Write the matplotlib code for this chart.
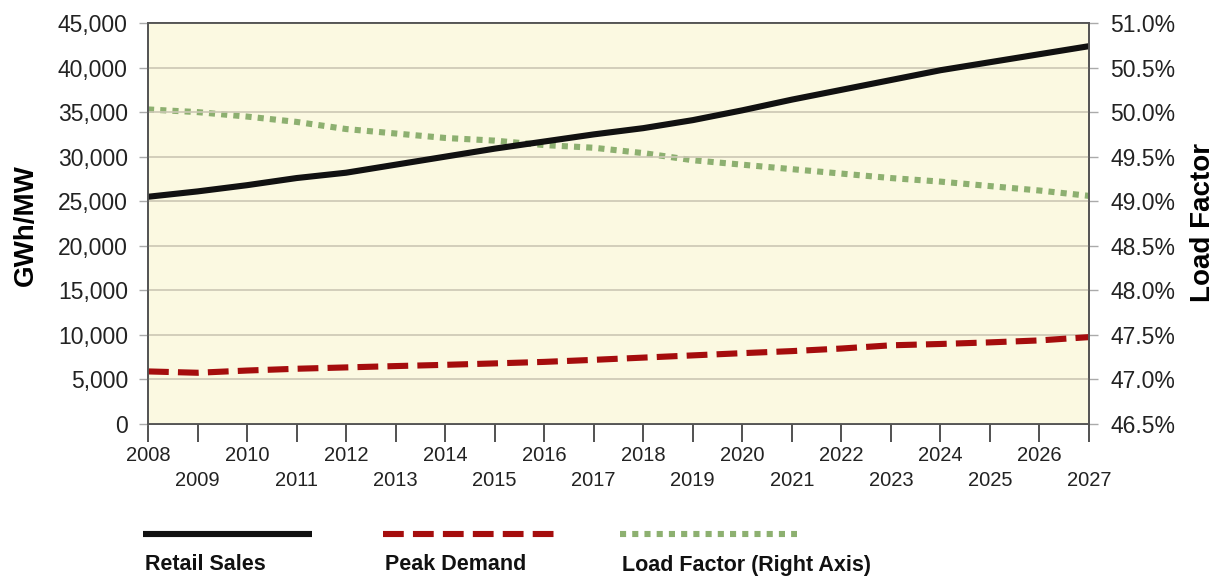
"""Retail sales, peak demand and load factor forecast, 2008-2027."""

import matplotlib

matplotlib.use("Agg")
import matplotlib.pyplot as plt  # noqa: E402
from matplotlib.lines import Line2D  # noqa: E402
from matplotlib.ticker import FixedLocator, FuncFormatter  # noqa: E402

plt.rcParams["font.family"] = ["Liberation Sans", "DejaVu Sans"]

years = list(range(2008, 2028))
retail_sales = [25500, 26100, 26800, 27600, 28200, 29100, 30000, 30900, 31700, 32500,
                33200, 34100, 35200, 36400, 37500, 38600, 39700, 40600, 41500, 42400]
peak_demand = [5900, 5750, 6000, 6200, 6350, 6500, 6640, 6800, 6970, 7200,
               7450, 7700, 7950, 8180, 8470, 8830, 8980, 9160, 9380, 9750]
load_factor = [50.03, 50.00, 49.95, 49.89, 49.81, 49.76, 49.71, 49.68, 49.63, 49.60,
               49.54, 49.46, 49.41, 49.36, 49.31, 49.26, 49.22, 49.17, 49.12, 49.06]

left_ticks = list(range(0, 45001, 5000))
right_ticks = [46.5, 47.0, 47.5, 48.0, 48.5, 49.0, 49.5, 50.0, 50.5, 51.0]
series_labels = ["Retail Sales", "Peak Demand", "Load Factor (Right Axis)"]

CREAM = "#fbf9e1"
styles = [
    dict(color="#111111", lw=4.4, solid_capstyle="butt"),
    dict(color="#a50d0d", lw=4.4, dashes=(3.4, 1.5), dash_capstyle="butt"),
    dict(color="#8db070", lw=4.4, dashes=(1.0, 1.0), dash_capstyle="butt"),
]

fig = plt.figure(figsize=(12.17, 5.76), dpi=100)
ax = fig.add_axes([148 / 1217, 1 - 424 / 576, 941 / 1217, 401 / 576])
ax2 = ax.twinx()

# left axis lines sit above the load-factor line
ax.set_zorder(2)
ax.patch.set_visible(False)
ax2.set_zorder(1)
ax2.patch.set_visible(True)
ax2.patch.set_facecolor(CREAM)

ax.plot(years, retail_sales, **styles[0])
ax.plot(years, peak_demand, **styles[1])
ax2.plot(years, load_factor, **styles[2])

ax.set_xlim(2008, 2027)
ax.set_ylim(0, 45000)
ax2.set_ylim(46.5, 51.0)

ax.set_yticks(left_ticks)
ax.yaxis.set_major_formatter(FuncFormatter(lambda v, _: f"{int(v):,}"))
ax2.set_yticks(right_ticks)
ax2.yaxis.set_major_formatter(FuncFormatter(lambda v, _: f"{v:.1f}%"))

ax.xaxis.set_major_locator(FixedLocator([y for y in years if y % 2 == 0]))
ax.xaxis.set_minor_locator(FixedLocator([y for y in years if y % 2 == 1]))
ax.xaxis.set_major_formatter(FuncFormatter(lambda v, _: f"{int(v)}"))
ax.xaxis.set_minor_formatter(FuncFormatter(lambda v, _: f"{int(v)}"))

ax.tick_params(axis="x", which="major", length=13, width=1.2, color="#333333",
               pad=3, labelsize=14.5, labelcolor="#222222")
ax.tick_params(axis="x", which="minor", length=13, width=1.2, color="#333333",
               pad=21, labelsize=14.5, labelcolor="#222222")
ax.tick_params(axis="y", length=6.5, width=1.0, color="#aaaaaa", pad=8,
               labelsize=16.5, labelcolor="#222222")
ax2.tick_params(axis="y", length=6.5, width=1.0, color="#aaaaaa", pad=9,
                labelsize=16.5, labelcolor="#222222")

ax.grid(axis="y", color="#cbc7b4", lw=1.2)
ax.grid(axis="x", visible=False)
for a in (ax, ax2):
    for sp in a.spines.values():
        sp.set_color("#555555")
        sp.set_linewidth(1.3)

# axis titles placed in figure pixels to match the reference layout
fig.text(26 / 1217, 1 - 225 / 576, "GWh/MW", fontsize=20, fontweight="bold",
         rotation=90, ha="center", va="center")
fig.text(1203 / 1217, 1 - 223 / 576, "Load Factor", fontsize=20, fontweight="bold",
         rotation=90, ha="center", va="center")

# legend: sample line above each label
legend_spans = [(143, 312), (383, 555), (620, 797)]
for (x0, x1), style, label in zip(legend_spans, styles, series_labels):
    fig.add_artist(Line2D([x0 / 1217, x1 / 1217], [1 - 534 / 576] * 2,
                          transform=fig.transFigure, **style))
    fig.text((x0 + 2) / 1217, 1 - 565 / 576, label, fontsize=15.5,
             fontweight="bold", va="center", ha="left", color="#111111")

fig.savefig("out.png", dpi=100, facecolor="white")
plt.close(fig)
